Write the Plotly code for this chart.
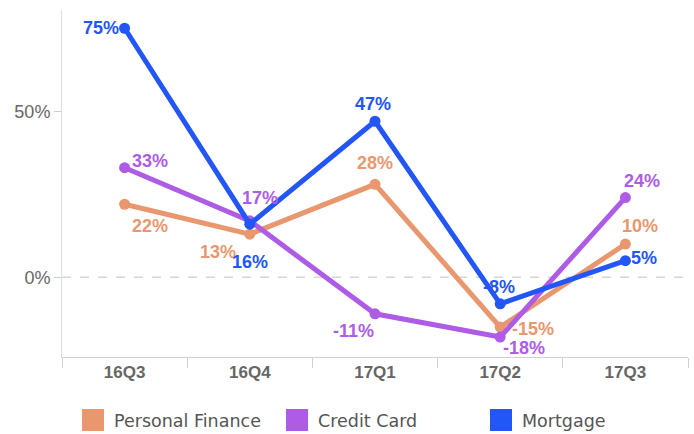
import plotly.graph_objects as go

quarters = ["16Q3", "16Q4", "17Q1", "17Q2", "17Q3"]
series_names = ["Personal Finance", "Credit Card", "Mortgage"]
personal_finance = [22, 13, 28, -15, 10]
credit_card = [33, 17, -11, -18, 24]
mortgage = [75, 16, 47, -8, 5]
y_tick_vals = [0, 50]
y_tick_text = ["0%", "50%"]

colors = ["#E9976F", "#AE5CE6", "#2356F6"]
# label offsets (dx, dy) in pixels from each point, screen-down positive dy
label_offsets = [
    [(25, 22), (-32, 18), (0, -21), (33, 2), (15, -18)],
    [(25, -7), (10, -23), (-22, 17), (24, 11), (17, -17)],
    [(-24, 0), (0, 38), (-2, -17), (-1, -17), (19, -3)],
]
values = [personal_finance, credit_card, mortgage]

W, H = 694, 434
ML, MR, MT, MB = 62, 6, 10, 77
PW, PH = W - ML - MR, H - MT - MB

def px_x(x):
    return (x - ML) / PW

def px_y(y):
    return (H - MB - y) / PH

fig = go.Figure()
for name, vals, col in zip(series_names, values, colors):
    fig.add_trace(go.Scatter(
        x=quarters, y=vals, name=name, mode="lines+markers",
        line=dict(color=col, width=5),
        marker=dict(color=col, size=11),
        cliponaxis=False, showlegend=False,
    ))

for vals, col, offs in zip(values, colors, label_offsets):
    for q, v, (dx, dy) in zip(quarters, vals, offs):
        fig.add_annotation(
            x=q, y=v, xref="x", yref="y", text=f"{v}%", showarrow=False,
            xanchor="center", yanchor="middle", xshift=dx, yshift=-dy,
            font=dict(family="Liberation Sans, Arial", size=18, color=col, weight="bold"),
        )

fig.add_shape(type="line", xref="paper", yref="y", x0=0, x1=1, y0=0, y1=0,
              line=dict(color="#d6d6d6", width=1.5, dash="dash"), layer="below")

# legend
box_x = [82, 286, 490]
for name, col, bx in zip(series_names, colors, box_x):
    fig.add_shape(type="rect", xref="paper", yref="paper",
                  x0=px_x(bx), x1=px_x(bx + 22), y0=px_y(409), y1=px_y(431),
                  fillcolor=col, line=dict(width=0))
    fig.add_annotation(xref="paper", yref="paper", x=px_x(bx + 30), y=px_y(421),
                       text=name, showarrow=False, xanchor="left", yanchor="middle",
                       font=dict(family="DejaVu Sans", size=17.5, color="#555555"))

fig.update_xaxes(
    type="category", range=[-0.5, 4.5], showgrid=False,
    showline=True, linecolor="#d0d0d0", linewidth=1,
    ticks="outside", tickson="boundaries", ticklen=10, tickcolor="#d0d0d0",
    tickfont=dict(family="Liberation Sans, Arial", size=17, color="#666666", weight="bold"),
)
fig.update_yaxes(
    range=[-24, 80.5], tickvals=y_tick_vals, ticktext=y_tick_text, showgrid=False,
    zeroline=False, showline=True, linecolor="#dddddd", linewidth=1,
    ticks="outside", ticklen=7, tickcolor="#cccccc",
    tickfont=dict(family="Liberation Sans, Arial", size=18, color="#666666"),
)
fig.update_layout(
    width=W, height=H, margin=dict(l=ML, r=MR, t=MT, b=MB),
    plot_bgcolor="white", paper_bgcolor="white", showlegend=False,
)
fig.write_html("out.html")
